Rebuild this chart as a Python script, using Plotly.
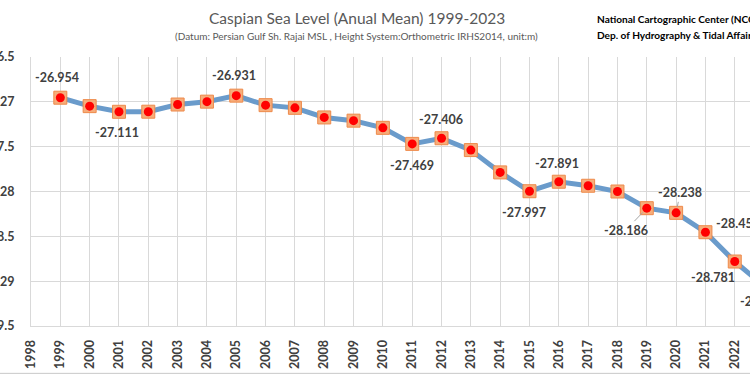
import plotly.graph_objects as go

years = list(range(1999, 2024))
level = [-26.954, -27.048, -27.111, -27.110, -27.030, -26.998, -26.931, -27.037,
         -27.067, -27.174, -27.210, -27.290, -27.469, -27.406, -27.538, -27.787,
         -27.997, -27.891, -27.936, -28.000, -28.186, -28.238, -28.454, -28.781,
         -29.052]
x_ticks = list(range(1998, 2023))
y_ticks = [-26.5, -27, -27.5, -28, -28.5, -29, -29.5]

title = "Caspian Sea Level (Anual Mean) 1999-2023"
subtitle = "(Datum: Persian Gulf Sh. Rajai MSL , Height System:Orthometric IRHS2014, unit:m)"
org_lines = ["National Cartographic Center (NCC)", "Dep. of Hydrography & Tidal Affairs"]

# labelled points: year -> (dx px, dy px, leader line)
label_offsets = {
    1999: (-3, -20, False), 2001: (-2, 21, False), 2005: (-2, -20, False),
    2011: (0, 22, False), 2012: (-1, -19, False), 2015: (-5, 21, False),
    2016: (-2, -18, False), 2019: (-21, 22, True), 2020: (4, -20, True),
    2021: (33, -9, False), 2022: (-22, 16, False),
}

FONT = "Lato"
LBL = "#404040"

fig = go.Figure()
fig.add_trace(go.Scatter(x=years, y=level, mode="lines",
                         line=dict(color="#6A9BCB", width=5), hoverinfo="skip"))
fig.add_trace(go.Scatter(x=years, y=level, mode="markers",
                         marker=dict(symbol="square", size=13, color="#F6AD7B",
                                     line=dict(color="#EE8A4A", width=1)), hoverinfo="skip"))
fig.add_trace(go.Scatter(x=years, y=level, mode="markers",
                         marker=dict(symbol="circle", size=9, color="#FF0000",
                                     line=dict(width=0)), hoverinfo="skip"))

annotations = []
for yr, v in zip(years, level):
    if yr in label_offsets:
        dx, dy, lead = label_offsets[yr]
        annotations.append(dict(
            x=yr, y=v, xref="x", yref="y", text=f"{v:.3f}",
            showarrow=True, ax=dx, ay=dy, arrowhead=0, arrowwidth=1, standoff=6,
            arrowcolor="#A6A6A6" if lead else "rgba(0,0,0,0)",
            font=dict(family=FONT, size=12.5, color=LBL, weight="bold"),
        ))
# last year lies just beyond the visible range: place its label from the previous column
annotations.append(dict(
    x=years[-2], y=level[-1], xref="x", yref="y", xshift=3, yshift=-16,
    xanchor="left", yanchor="middle", text=f"{level[-1]:.3f}", showarrow=False,
    font=dict(family=FONT, size=12.5, color=LBL, weight="bold"),
))

annotations += [
    dict(text=title, xref="paper", yref="paper", x=0.4534, y=1.146, showarrow=False,
         xanchor="center", yanchor="middle",
         font=dict(family=FONT, size=15.5, color="#595959")),
    dict(text=subtitle, xref="paper", yref="paper", x=0.4534, y=1.079, showarrow=False,
         xanchor="center", yanchor="middle",
         font=dict(family=FONT, size=10, color="#595959")),
    dict(text=org_lines[0], xref="paper", yref="paper", x=0.785, y=1.142, showarrow=False,
         xanchor="left", yanchor="middle",
         font=dict(family=FONT, size=10.1, color="#000000", weight="bold")),
    dict(text=org_lines[1], xref="paper", yref="paper", x=0.785, y=1.082, showarrow=False,
         xanchor="left", yanchor="middle",
         font=dict(family=FONT, size=10.1, color="#000000", weight="bold")),
]

fig.update_layout(
    width=750, height=375,
    margin=dict(l=31, r=0, t=57, b=49, autoexpand=False),
    paper_bgcolor="white", plot_bgcolor="white",
    showlegend=False,
    hovermode=False,
    annotations=annotations,
    shapes=[dict(type="line", xref="paper", yref="paper", x0=-0.1, x1=1.1,
                 y0=-0.176, y1=-0.176, line=dict(color="#C8C8C8", width=1))],
    xaxis=dict(range=[1998, 2022.52], tickvals=x_ticks, ticktext=[str(t) for t in x_ticks],
               tickangle=-90, showgrid=True, gridcolor="#D9D9D9", gridwidth=1,
               showline=True, linecolor="#D9D9D9", linewidth=1, zeroline=False,
               ticks="", ticklabelstandoff=8, automargin=False,
               tickfont=dict(family=FONT, size=12.5, color=LBL, weight="bold")),
    yaxis=dict(range=[-29.5, -26.5], tickvals=y_ticks, ticktext=[f"{t:g}" for t in y_ticks],
               showgrid=True, gridcolor="#D9D9D9", gridwidth=1,
               showline=True, linecolor="#D9D9D9", linewidth=1, zeroline=False,
               ticks="", ticklabelstandoff=13, automargin=False,
               tickfont=dict(family=FONT, size=12.5, color=LBL, weight="bold")),
)

fig.write_html("out.html", config={"displayModeBar": False},
               post_script="document.body.style.margin='0';")
